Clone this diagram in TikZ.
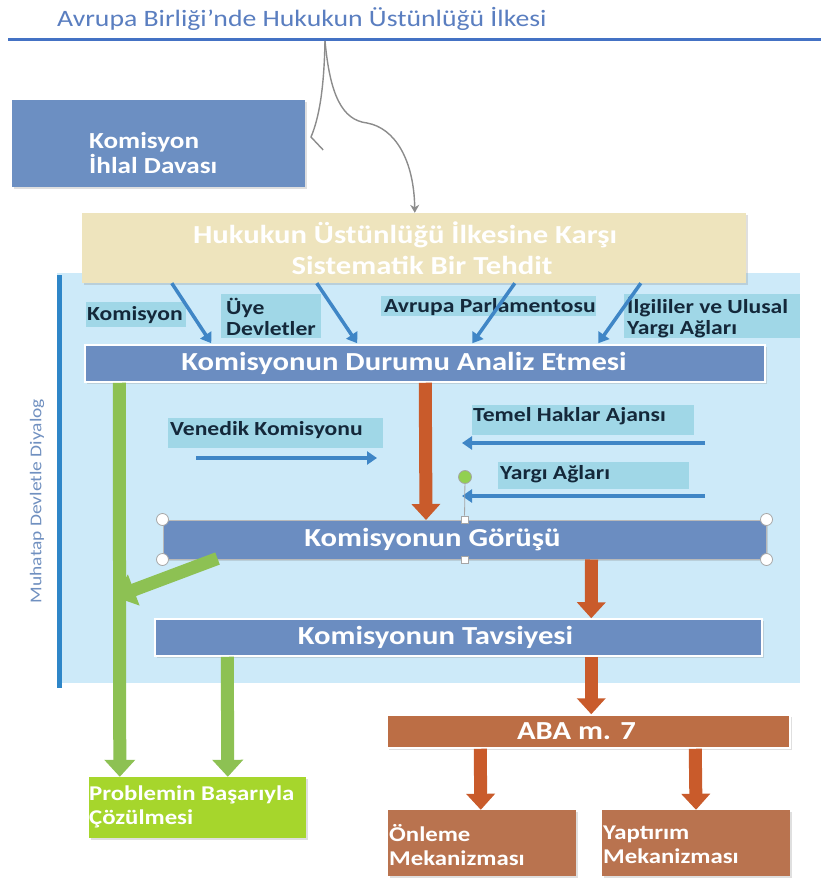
\documentclass[tikz,border=0pt]{standalone}
\usepackage{fontspec}
\setmainfont{Carlito}[FakeStretch=1.18]
\usetikzlibrary{arrows.meta,shadows}
\definecolor{ttlc}{HTML}{5A7EC0}
\definecolor{rulec}{HTML}{4472C4}
\definecolor{steel}{HTML}{6B8DC1}
\definecolor{kbc}{HTML}{6C8FC2}
\definecolor{yelc}{HTML}{EEE4BD}
\definecolor{bgc}{HTML}{CDEAF9}
\definecolor{labc}{HTML}{A0D7E7}
\definecolor{labt}{HTML}{14283A}
\definecolor{barc}{HTML}{2E86C8}
\definecolor{arrb}{HTML}{3F86C6}
\definecolor{orc}{HTML}{C95B2B}
\definecolor{abac}{HTML}{BC6E45}
\definecolor{mekc}{HTML}{B9734F}
\definecolor{grc}{HTML}{8DC153}
\definecolor{limc}{HTML}{A6D62C}
\definecolor{rotc}{HTML}{7090C0}
\definecolor{curvc}{HTML}{8C8C8C}
\definecolor{handc}{HTML}{92D050}
\begin{document}
\begin{tikzpicture}[x=1pt,y=-1pt,
  bigtxt/.style={font=\fontsize{26}{31}\selectfont\bfseries, text=white},
  shad/.style={drop shadow={opacity=0.25, shadow xshift=2pt, shadow yshift=-2pt}},
  bluebox/.style={rectangle, fill=steel, draw=white, line width=1.5pt, inner sep=0pt, bigtxt, shad},
  plainbox/.style={rectangle, inner sep=0pt},
  labbox/.style={rectangle, fill=labc, inner sep=0pt},
  labtxt/.style={font=\fontsize{20}{21}\selectfont\bfseries, text=labt, inner sep=0pt, anchor=west, align=left},
  barrow/.style={draw=arrb, line width=3.5pt, -{Triangle[width=13pt,length=10pt]}},
  oarrow/.style={draw=orc, line width=13pt, -{Triangle[width=28pt,length=16pt]}},
  garrow/.style={draw=grc, line width=13pt, -{Triangle[width=30pt,length=17pt]}},
  hcirc/.style={circle, draw=gray!70, fill=white, line width=0.8pt, minimum size=12pt, inner sep=0pt},
  hsq/.style={rectangle, draw=gray!70, fill=white, line width=0.8pt, minimum size=7pt, inner sep=0pt},
  wtxt/.style={font=\fontsize{21}{24}\selectfont\bfseries, text=white, inner sep=0pt, anchor=west, align=left}
]
\useasboundingbox (0,0) rectangle (821,880);
\fill[white] (0,0) rectangle (821,880);

% title and rule
\node[anchor=west, inner sep=0pt, text=ttlc, font=\fontsize{23.5}{28}\selectfont] (ttl) at (57,19) {Avrupa Birliği'nde Hukukun Üstünlüğü İlkesi};
\draw[rulec, line width=3pt] (8,40) -- (821,40);

% Komisyon ihlal davasi
\node[plainbox, fill=kbc, minimum width=293pt, minimum height=87pt, shad] (kbox) at (158.5,143.5) {};
\node[wtxt, font=\fontsize{23}{25}\selectfont\bfseries] (ktxt) at (89,153) {Komisyon\\İhlal Davası};

% background panel
\node[plainbox, fill=bgc, minimum width=743pt, minimum height=410pt] (bg) at (428.5,478) {};
\draw[barc, line width=5pt] (59,275) -- (59,688);
\node[rotate=90, inner sep=0pt, text=rotc, font=\fontsize{16.5}{19}\selectfont] (dia) at (37,501) {Muhatap Devletle Diyalog};

% yellow box
\node[plainbox, fill=yelc, minimum width=664pt, minimum height=70pt, shad] (yel) at (414,248) {};
\node[bigtxt, align=center, inner sep=0pt] (yeltxt) at (405,248) {Hukukun Üstünlüğü İlkesine Karşı\\\hspace*{34pt}Sistematik Bir Tehdit};

% curved connector
\coordinate (cs) at (325,41);
\draw[curvc, line width=1.4pt] (cs) .. controls (324,90) and (319,118) .. (311,137) -- ([xshift=18pt,yshift=-6.5pt]kbox.east);
\draw[curvc, line width=1.4pt, -{Stealth[width=9pt,length=8pt]}] (cs) .. controls (330,95) and (342,120) .. (367,123) .. controls (395,128) and (414,160) .. ([xshift=333pt]yel.north west);

% labels under yellow box
\node[labbox, minimum width=100pt, minimum height=25pt] (l1b) at (136,314) {};
\node[labtxt] (l1) at (87,315) {Komisyon};
\node[labbox, minimum width=100pt, minimum height=44pt] (l2b) at (271,316) {};
\node[labtxt] (l2) at (226,317) {Üye\\Devletler};
\node[labbox, minimum width=215pt, minimum height=20pt] (l3b) at (488.5,306) {};
\node[labtxt] (l3) at (384,307) {Avrupa Parlamentosu};
\node[labbox, minimum width=176pt, minimum height=44pt] (l4b) at (712,316) {};
\node[labtxt] (l4) at (627,317) {İlgililer ve Ulusal\\Yargı Ağları};

% analysis box
\node[bluebox, minimum width=680pt, minimum height=37pt] (ana) at (425,363.5) {Komisyonun Durumu Analiz Etmesi\hspace*{42pt}};

\draw[barrow] ([xshift=90pt]yel.south west) -- ([xshift=127pt,yshift=1pt]ana.north west);
\draw[barrow] ([xshift=235pt]yel.south west) -- ([xshift=273pt,yshift=1pt]ana.north west);
\draw[barrow] ([xshift=433pt]yel.south west) -- ([xshift=388pt,yshift=1pt]ana.north west);
\draw[barrow] ([xshift=559pt]yel.south west) -- ([xshift=514pt,yshift=1pt]ana.north west);

% middle labels
\node[labbox, minimum width=215pt, minimum height=30pt] (venb) at (275.5,433) {};
\node[labtxt] (ven) at (170,430) {Venedik Komisyonu};
\coordinate (vs) at (196,458);
\coordinate (ve) at (377,458);
\draw[barrow] (vs) -- (ve);
\node[labbox, minimum width=222pt, minimum height=30pt] (temb) at (583,420) {};
\node[labtxt] (tem) at (473,416) {Temel Haklar Ajansı};
\coordinate (ts) at (705,443);
\coordinate (te) at (462,443);
\draw[barrow] (ts) -- (te);
\node[labbox, minimum width=191pt, minimum height=27pt] (yarb) at (593.5,475) {};
\node[labtxt] (yar) at (500,474) {Yargı Ağları};
\coordinate (ys) at (705,496);
\coordinate (ye) at (462,496);
\draw[barrow] (ys) -- (ye);

% boxes lower
\node[bluebox, minimum width=607pt, minimum height=37pt] (tav) at (458.5,637.5) {Komisyonun Tavsiyesi\hspace*{46pt}};
\node[plainbox, fill=abac, draw=white, line width=1.5pt, bigtxt, shad, minimum width=403pt, minimum height=33pt] (aba) at (588.5,731.5) {ABA m. 7\hspace*{24pt}};
\node[plainbox, fill=mekc, minimum width=188pt, minimum height=66pt, shad] (onl) at (482,843) {};
\node[wtxt] (onlt) at (389,845) {Önleme\\Mekanizması};
\node[plainbox, fill=mekc, minimum width=188pt, minimum height=66pt, shad] (yap) at (696,843) {};
\node[wtxt] (yapt) at (603,845) {Yaptırım\\Mekanizması};
\node[plainbox, fill=limc, minimum width=217pt, minimum height=61pt, shad] (prob) at (197.5,807.5) {};
\node[wtxt] (probt) at (89,807) {Problemin Başarıyla\\Çözülmesi};

% green arrows
\draw[garrow] ([xshift=35pt]ana.south west) -- ([xshift=31pt]prob.north west);
\draw[garrow] ([xshift=73pt]tav.south west) -- ([xshift=139pt]prob.north west);

% orange arrows
\draw[oarrow] ([xshift=341pt]ana.south west) -- (426,520);
\draw[oarrow] ([xshift=437pt]tav.south west) -- ([xshift=205pt]aba.north west);
\draw[oarrow] ([xshift=94pt]aba.south west) -- ([xshift=93pt]onl.north west);
\draw[oarrow] ([xshift=309pt]aba.south west) -- (yap.north);

% Gorusu box with handles
\node[bluebox, draw=gray!55, line width=1pt, minimum width=603pt, minimum height=39pt] (gor) at (464.5,539.5) {Komisyonun Görüşü\hspace*{64pt}};
\draw[oarrow] ([xshift=429pt]gor.south west) -- ([xshift=437pt]tav.north west);
\coordinate (gtip) at (115,597);
\draw[garrow, line width=13pt, -{Triangle[width=32pt,length=20pt]}] ([xshift=55pt,yshift=1pt]gor.south west) -- (gtip);
\node[hcirc] (h1) at (gor.north west) {};
\node[hcirc] (h2) at (gor.north east) {};
\node[hcirc] (h3) at (gor.south west) {};
\node[hcirc] (h4) at (gor.south east) {};
\node[hsq] (h5) at (gor.north) {};
\node[hsq] (h6) at (gor.south) {};
\node[circle, fill=handc, draw=gray!70, line width=0.8pt, minimum size=13pt, inner sep=0pt] (h7) at (465,477) {};
\draw[gray!70, line width=0.8pt] (h7) -- (h5);
\end{tikzpicture}
\end{document}
